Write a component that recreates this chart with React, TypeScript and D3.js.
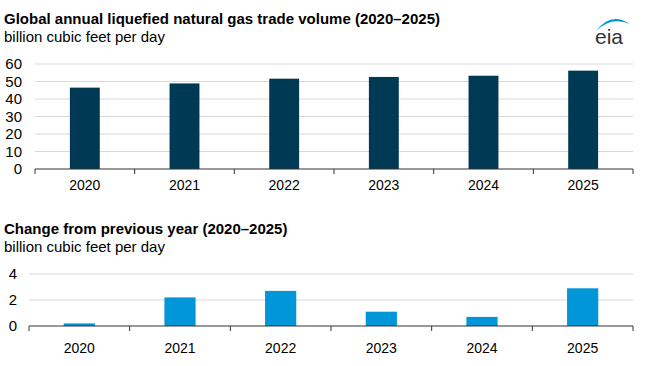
import React from 'react'
import * as d3 from 'd3'

// values
const years = ['2020', '2021', '2022', '2023', '2024', '2025']
const tradeVolume = [46.5, 48.9, 51.6, 52.6, 53.3, 56.2]
const yearChange = [0.2, 2.2, 2.7, 1.1, 0.7, 2.9]
const volumeTicks = [0, 10, 20, 30, 40, 50, 60]
const changeTicks = [0, 2, 4]

const font = '"Liberation Sans", Arial, sans-serif'
const gridColor = '#d9d9d9'
const axisColor = '#333333'

type PanelProps = {
  title: string
  subtitle: string
  titleY: number
  values: number[]
  ticks: number[]
  left: number
  right: number
  top: number
  bottom: number
  barShare: number
  fill: string
  labelX: number
  labelBaseline: number
}

function Panel({title, subtitle, titleY, values, ticks, left, right, top, bottom, barShare, fill, labelX, labelBaseline}: PanelProps) {
  const yScale = d3.scaleLinear()
    .domain([0, d3.max(ticks) as number])
    .range([bottom, top])

  // category boundaries (for tick marks) and the narrower bars inside them
  const edges = d3.scaleBand().domain(years).range([left, right]).padding(0)
  const bars = d3.scaleBand().domain(years).range([left, right])
    .paddingInner(1 - barShare)
    .paddingOuter((1 - barShare) / 2)
  const step = edges.step()

  return (
    <g>
      <text x={4} y={titleY} fontFamily={font} fontSize={15} fontWeight="bold" fill="#000">{title}</text>
      <text x={4} y={titleY + 18} fontFamily={font} fontSize={15} fill="#000">{subtitle}</text>
      {
        ticks.filter(t => t !== 0).map(t =>
          <line key={'g' + t} x1={left} x2={right} y1={yScale(t)} y2={yScale(t)} stroke={gridColor} strokeWidth={1} />)
      }
      {
        ticks.map(t =>
          <text key={'t' + t} x={labelX} y={yScale(t)} dy="0.36em" textAnchor="end"
            fontFamily={font} fontSize={15} fill="#000">{t}</text>)
      }
      {
        values.map((v, i) =>
          <rect key={years[i]} x={bars(years[i])} y={yScale(v)} width={bars.bandwidth()}
            height={yScale(0) - yScale(v)} fill={fill} />)
      }
      <line x1={left} x2={right} y1={yScale(0)} y2={yScale(0)} stroke={axisColor} strokeWidth={1.2} />
      {
        d3.range(years.length + 1).map(i =>
          <line key={'k' + i} x1={left + i * step} x2={left + i * step} y1={yScale(0)} y2={yScale(0) + 5}
            stroke={axisColor} strokeWidth={1} />)
      }
      {
        years.map(yr =>
          <text key={'x' + yr} x={(edges(yr) as number) + step / 2} y={labelBaseline} textAnchor="middle"
            fontFamily={font} fontSize={14} fill="#000">{yr}</text>)
      }
    </g>
  )
}

function Logo() {
  return (
    <g>
      <path d="M596,31 Q611,11 630,24 Q611,16 596,31 Z" fill="#0096d7" />
      <text x={609} y={44} textAnchor="middle" fontFamily={font} fontSize={21} fill="#333">eia</text>
    </g>
  )
}

export default function App() {
  return (
    <svg width={650} height={366} viewBox="0 0 650 366"
      style={{position: 'absolute', left: 0, top: 0, background: '#fff'}}>
      <rect width={650} height={366} fill="#fff" />
      <Panel title="Global annual liquefied natural gas trade volume (2020–2025)"
        subtitle="billion cubic feet per day" titleY={24}
        values={tradeVolume} ticks={volumeTicks}
        left={35} right={633} top={64} bottom={169}
        barShare={0.3} fill="#003953" labelX={22} labelBaseline={190} />
      <Panel title="Change from previous year (2020–2025)"
        subtitle="billion cubic feet per day" titleY={234}
        values={yearChange} ticks={changeTicks}
        left={29} right={633} top={274} bottom={326}
        barShare={0.31} fill="#0096d7" labelX={17} labelBaseline={353} />
      <Logo />
    </svg>
  )
}
